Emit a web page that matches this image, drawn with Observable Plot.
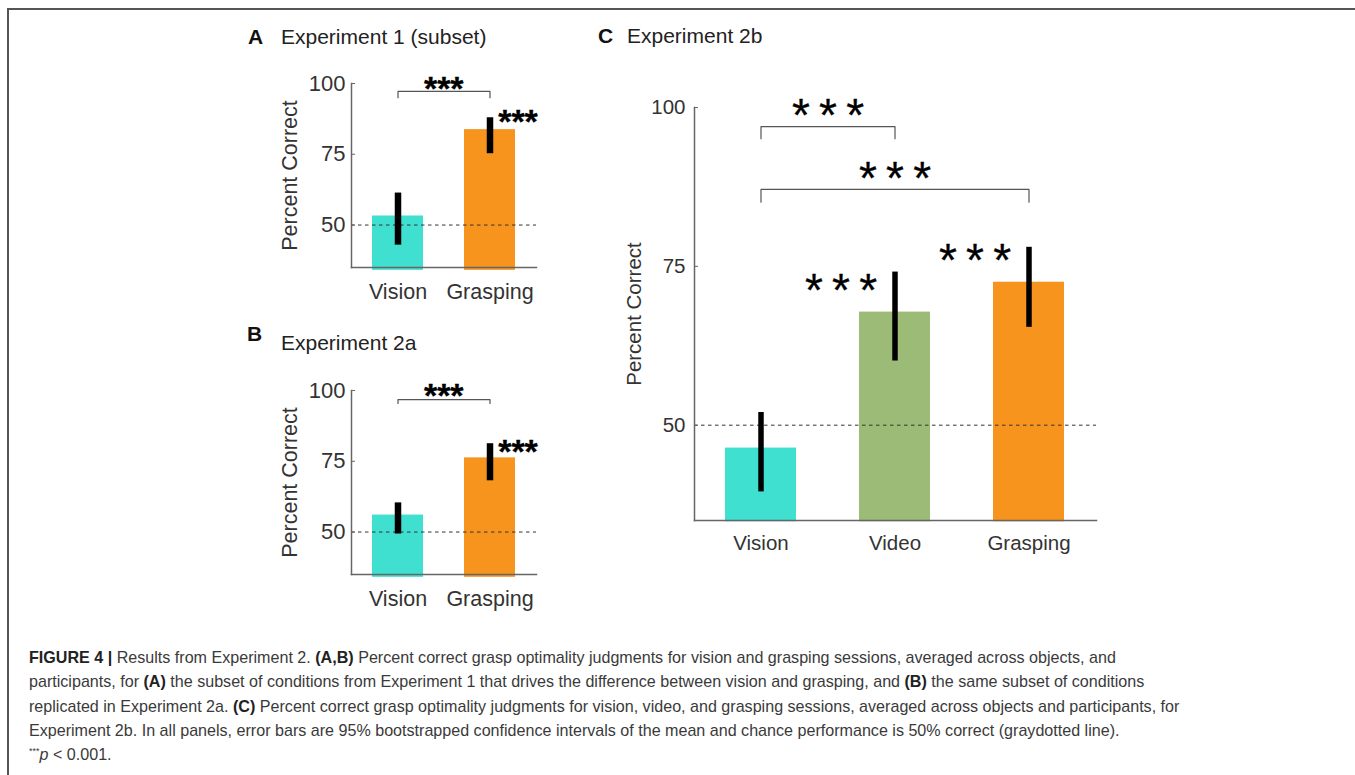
<!DOCTYPE html>
<html>
<head>
<meta charset="utf-8">
<script src="https://cdn.jsdelivr.net/npm/d3@7"></script>
<script src="https://cdn.jsdelivr.net/npm/@observablehq/plot@0.6"></script>
<style>
  body { margin: 0; background: #fff; }
  #page { position: relative; width: 1355px; height: 775px; overflow: hidden;
          font-family: "Liberation Sans", Arial, Helvetica, sans-serif; color: #333; background: #fff; }
  .border { position: absolute; left: 7px; top: 8px; width: 1400px; height: 800px;
            border-top: 2px solid #555; border-left: 2px solid #555; }
  .ttl { position: absolute; font-size: 21px; line-height: 21px; white-space: nowrap; color: #222; }
  .ttl.letter { font-weight: bold; color: #111; }
  .panel { position: absolute; }
  .cap { position: absolute; left: 29px; font-size: 16.1px; line-height: 24.3px; white-space: nowrap; color: #3a3a3a; }
  .cap b { color: #222; }
  .cap sup { font-size: 9px; vertical-align: 6px; line-height: 0; }
</style>
</head>
<body>
<div id="page">
  <div class="border"></div>
  <div class="ttl letter" style="left:248px; top:26px;">A</div>
  <div class="ttl" style="left:281px; top:26px;">Experiment 1 (subset)</div>
  <div class="ttl letter" style="left:247px; top:323px;">B</div>
  <div class="ttl" style="left:281px; top:332px;">Experiment 2a</div>
  <div class="ttl letter" style="left:598px; top:25px;">C</div>
  <div class="ttl" style="left:627px; top:25px;">Experiment 2b</div>
  <div id="panelA" class="panel" style="left:240px; top:60px;"></div>
  <div id="panelB" class="panel" style="left:240px; top:367px;"></div>
  <div id="panelC" class="panel" style="left:590px; top:60px;"></div>
  <div id="caption"></div>
</div>
<script>
// ---------------- data ----------------
const conditionsAB = ["Vision", "Grasping"];
const conditionsC = ["Vision", "Video", "Grasping"];

// Panel A: Experiment 1 (subset)
const meanA = [53.2, 83.7];
const ciLowA = [42.9, 75.2];
const ciHighA = [61.3, 87.9];

// Panel B: Experiment 2a
const meanB = [56.0, 76.2];
const ciLowB = [49.3, 68.1];
const ciHighB = [60.3, 81.2];

// Panel C: Experiment 2b
const meanC = [46.4, 67.8, 72.5];
const ciLowC = [39.5, 60.1, 65.4];
const ciHighC = [52.0, 74.1, 78.0];

const yTicks = [50, 75, 100];
const yDomain = [35, 100];
const chanceLevel = 50;
const yLabel = "Percent Correct";
const starsTight = "***";
const starsSpaced = "*\u2009*\u2009*";

// significance brackets: pair compared, bracket level, tick end, star position
const bracketsA = [{from: "Vision", to: "Grasping", level: 97.2, end: 95.0, starY: 99.6}];
const bracketsB = [{from: "Vision", to: "Grasping", level: 96.8, end: 95.4, starY: 99.6}];
const bracketsC = [
  {from: "Vision", to: "Video", level: 97.0, end: 95.1, starY: 99.7},
  {from: "Vision", to: "Grasping", level: 87.1, end: 85.1, starY: 89.7}
];
// stars vs. chance next to individual bars
const sideStarsA = [{cond: "Grasping", y: 87.9}];
const sideStarsB = [{cond: "Grasping", y: 79.8}];
const sideStarsC = [{cond: "Video", y: 72.1}, {cond: "Grasping", y: 76.8}];

const colorOf = {Vision: "#40E0D0", Video: "#9BBB77", Grasping: "#F7941E"};

// ---------------- drawing ----------------
function rows(conds, mean, lo, hi) {
  return conds.map((c, i) => ({cond: c, mean: mean[i], lo: lo[i], hi: hi[i]}));
}

function panel(cfg) {
  const data = rows(cfg.conds, cfg.mean, cfg.lo, cfg.hi);
  const innerW = cfg.width - cfg.ml - cfg.mr;
  const step = innerW / cfg.conds.length; // paddingOuter = paddingInner / 2
  const starStyle = {
    text: () => cfg.star, dy: cfg.starFs * 0.14, fontSize: cfg.starFs, fontWeight: cfg.starWeight,
    fill: "#000", stroke: "#000", strokeWidth: cfg.starStroke, lineAnchor: "middle"
  };
  const marks = [
    Plot.barY(data, {x: "cond", y1: cfg.base, y2: "mean", fill: d => colorOf[d.cond]}),
    Plot.ruleY([chanceLevel], {stroke: "#333", strokeWidth: 1, strokeDasharray: "3.5,3.5"}),
    Plot.ruleX(data, {x: "cond", y1: "lo", y2: "hi", stroke: "#000", strokeWidth: cfg.ebw}),
    Plot.frame({anchor: "left", stroke: "#666", strokeWidth: 1.5}),
    Plot.frame({anchor: "bottom", stroke: "#666", strokeWidth: 1.5}),
    Plot.axisY({ticks: yTicks, tickSize: 0, tickPadding: cfg.tickPad, fontSize: cfg.tickFs, label: null}),
    Plot.axisY({ticks: yTicks, tickSize: 4, dx: 4, tickFormat: () => "", label: null, stroke: "#666"}),
    Plot.axisX({tickSize: 0, tickPadding: cfg.xPad, fontSize: cfg.fs, label: null}),
    Plot.text([yLabel], {frameAnchor: "left", textAnchor: "middle", text: d => d, rotate: -90,
                         dx: cfg.labelDx, fontSize: cfg.fs, fill: "#333"})
  ];
  cfg.brackets.forEach((b) => {
    const pts = [
      {cond: b.from, y: b.end}, {cond: b.from, y: b.level},
      {cond: b.to, y: b.level}, {cond: b.to, y: b.end}
    ];
    marks.push(Plot.line(pts, {x: "cond", y: "y", stroke: "#555", strokeWidth: 1.2}));
    const span = cfg.conds.indexOf(b.to) - cfg.conds.indexOf(b.from);
    marks.push(Plot.text([b], {x: "to", y: "starY", dx: -span * step / 2, ...starStyle}));
  });
  marks.push(Plot.text(cfg.side, {x: "cond", y: "y", dx: cfg.sideDx, ...starStyle}));
  return Plot.plot({
    width: cfg.width, height: cfg.height,
    marginLeft: cfg.ml, marginRight: cfg.mr, marginTop: cfg.mt, marginBottom: cfg.mb,
    style: {fontFamily: "'Liberation Sans', Arial, Helvetica, sans-serif", color: "#333", background: "transparent", overflow: "visible"},
    x: {type: "band", domain: cfg.conds, paddingInner: cfg.pIn, paddingOuter: cfg.pIn / 2},
    y: {domain: yDomain},
    marks
  });
}

const smallCfg = {
  conds: conditionsAB, width: 310, height: 250, ml: 111, mr: 14, mt: 23, mb: 43,
  pIn: 0.446, base: 34, ebw: 6.5, fs: 21.5, tickFs: 22, tickPad: 6, xPad: 16, labelDx: -61,
  star: starsTight, starFs: 34, starWeight: "bold", starStroke: 0.3, sideDx: 28
};

document.getElementById("panelA").append(panel({...smallCfg, mean: meanA, lo: ciLowA, hi: ciHighA, brackets: bracketsA, side: sideStarsA}));
document.getElementById("panelB").append(panel({...smallCfg, mean: meanB, lo: ciLowB, hi: ciHighB, brackets: bracketsB, side: sideStarsB}));
document.getElementById("panelC").append(panel({
  conds: conditionsC, mean: meanC, lo: ciLowC, hi: ciHighC, brackets: bracketsC, side: sideStarsC,
  width: 530, height: 520, ml: 104, mr: 24, mt: 47, mb: 60,
  pIn: 0.47, base: 34.8, ebw: 5.5, fs: 20.5, tickFs: 20.5, tickPad: 9, xPad: 15, labelDx: -60,
  star: starsSpaced, starFs: 46, starWeight: "normal", starStroke: 0.3, sideDx: -54
}));

// ---------------- caption ----------------
const captionLines = [
  "<b>FIGURE 4 |</b> Results from Experiment 2. <b>(A,B)</b> Percent correct grasp optimality judgments for vision and grasping sessions, averaged across objects, and",
  "participants, for <b>(A)</b> the subset of conditions from Experiment 1 that drives the difference between vision and grasping, and <b>(B)</b> the same subset of conditions",
  "replicated in Experiment 2a. <b>(C)</b> Percent correct grasp optimality judgments for vision, video, and grasping sessions, averaged across objects and participants, for",
  "Experiment 2b. In all panels, error bars are 95% bootstrapped confidence intervals of the mean and chance performance is 50% correct (graydotted line).",
  "<sup>***</sup><i>p</i> &lt; 0.001."
];
const cap = document.getElementById("caption");
captionLines.forEach((html, i) => {
  const d = document.createElement("div");
  d.className = "cap";
  d.style.top = (645 + i * 24.3) + "px";
  d.innerHTML = html;
  cap.append(d);
});
</script>
</body>
</html>
